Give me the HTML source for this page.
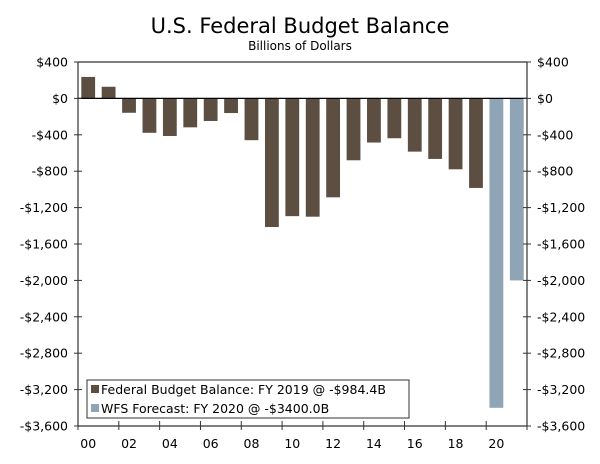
<!DOCTYPE html>
<html><head><meta charset="utf-8"><style>
body{margin:0;background:#fff;}
svg text{font-family:"DejaVu Sans","Liberation Sans",sans-serif;}
</style></head><body>
<svg id="c" width="600" height="459" xmlns="http://www.w3.org/2000/svg">
<text x="300" y="33" text-anchor="middle" font-size="21" fill="#000" font-family="Liberation Sans,sans-serif">U.S. Federal Budget Balance</text>
<text x="300" y="50" text-anchor="middle" font-size="12" fill="#000">Billions of Dollars</text>
<g id="plot"></g>
<g>
<rect x="87" y="380" width="322" height="38" fill="#fff" stroke="#333" stroke-width="1"/>
<rect x="91" y="385" width="8" height="8" fill="#5c4e40"/>
<text x="101" y="394" font-size="12.5">Federal Budget Balance: FY 2019 @ -$984.4B</text>
<rect x="91" y="404" width="8" height="8" fill="#8fa4b4"/>
<text x="101" y="413" font-size="12.5">WFS Forecast: FY 2020 @ -$3400.0B</text>
</g>
</svg>
<script>
const years=[2000,2001,2002,2003,2004,2005,2006,2007,2008,2009,2010,2011,2012,2013,2014,2015,2016,2017,2018,2019,2020,2021];
const actual=[236,128,-158,-378,-413,-318,-248,-161,-459,-1413,-1294,-1300,-1087,-680,-485,-438,-585,-665,-779,-984,null,null];
const forecast=[null,null,null,null,null,null,null,null,null,null,null,null,null,null,null,null,null,null,null,null,-3400,-2000];
const yTicks=[400,0,-400,-800,-1200,-1600,-2000,-2400,-2800,-3200,-3600];
const yTickLabels=['$400','$0','-$400','-$800','-$1,200','-$1,600','-$2,000','-$2,400','-$2,800','-$3,200','-$3,600'];
const xLabels=['00','02','04','06','08','10','12','14','16','18','20'];

const L=78,R=527,T=62,B=426;
const NS='http://www.w3.org/2000/svg';
const g=document.getElementById('plot');
const slot=(R-L)/years.length;
const x=i=>L+i*slot;
const y=v=>T+(400-v)/4000*(B-T);
function mk(t,a){const e=document.createElementNS(NS,t);for(const k in a)e.setAttribute(k,a[k]);g.appendChild(e);return e;}
function bar(v,i,col,nm){
  const y0=y(0),y1=y(v);
  const e=mk('rect',{x:x(i)+3.3,y:Math.min(y0,y1),width:slot-6.6,height:Math.abs(y1-y0),fill:col});
  
  
}
actual.forEach((v,i)=>{if(v!==null)bar(v,i,'#5c4e40','bar-actual');});
forecast.forEach((v,i)=>{if(v!==null)bar(v,i,'#8fa4b4','bar-forecast');});
// axes
let e;
e=mk('line',{x1:L,y1:T,x2:L,y2:B,stroke:'#333','stroke-width':1.2});

e=mk('line',{x1:R,y1:T,x2:R,y2:B,stroke:'#333','stroke-width':1.2});

e=mk('line',{x1:L,y1:T,x2:R,y2:T,stroke:'#333','stroke-width':1.2});

e=mk('line',{x1:L,y1:B,x2:R,y2:B,stroke:'#333','stroke-width':1.2});

e=mk('line',{x1:L,y1:y(0),x2:R,y2:y(0),stroke:'#000','stroke-width':1.2});

yTicks.forEach((v,i)=>{
  const yy=y(v);
  mk('line',{x1:L-4,y1:yy,x2:L+4,y2:yy,stroke:'#333'});
  mk('line',{x1:R-4,y1:yy,x2:R+4,y2:yy,stroke:'#333'});
  let t=mk('text',{x:L-10,y:yy+4.5,'text-anchor':'end','font-size':12.5});t.textContent=yTickLabels[i];
  
  t=mk('text',{x:R+10,y:yy+4.5,'text-anchor':'start','font-size':12.5});t.textContent=yTickLabels[i];
  
});
for(let i=0;i<=years.length;i+=2){mk('line',{x1:x(i),y1:B-5,x2:x(i),y2:B+4,stroke:'#333'});}
xLabels.forEach((s,k)=>{
  const t=mk('text',{x:x(2*k)+slot/2,y:B+22,'text-anchor':'middle','font-size':12.5});t.textContent=s;
  
});
</script>
</body></html>
